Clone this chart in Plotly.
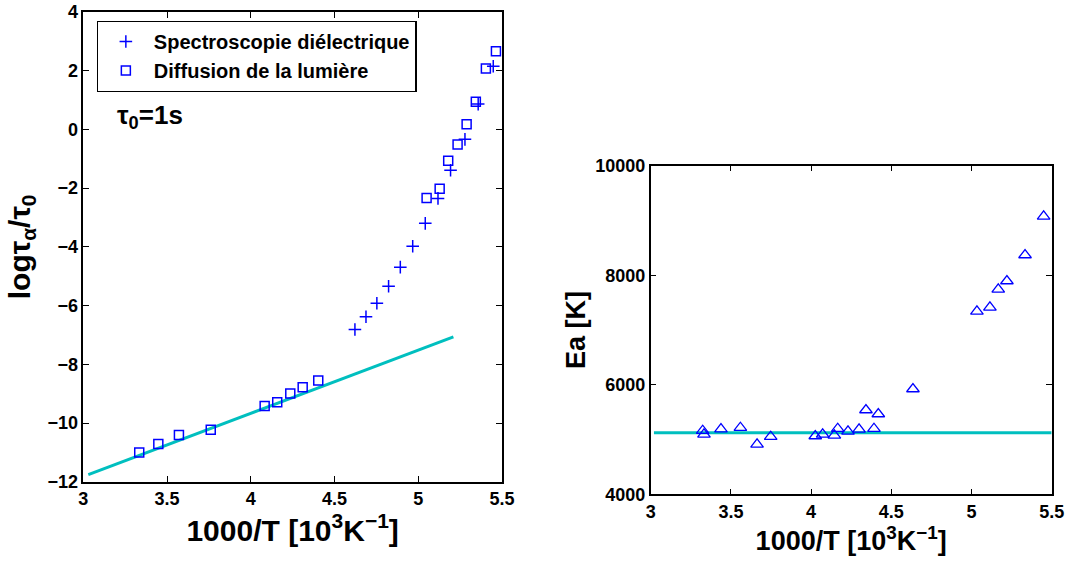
import plotly.graph_objects as go

# Left panel data
diel_x = [4.622, 4.688, 4.753, 4.823, 4.893, 4.967, 5.042, 5.118, 5.193, 5.279, 5.358, 5.448]
diel_y = [-6.81, -6.38, -5.92, -5.34, -4.69, -3.98, -3.20, -2.35, -1.39, -0.34, 0.86, 2.15]

diff_x = [3.334, 3.448, 3.571, 3.761, 4.083, 4.158, 4.236, 4.310, 4.403,
          5.050, 5.128, 5.179, 5.235, 5.289, 5.344, 5.404, 5.464]
diff_y = [-11.00, -10.71, -10.40, -10.22, -9.42, -9.29, -8.99, -8.78, -8.55,
          -2.34, -2.02, -1.07, -0.52, 0.17, 0.94, 2.07, 2.66]

fit_x = [3.03, 5.21]
fit_y = [-11.75, -7.06]

# Right panel data
ea_x = [3.324, 3.332, 3.438, 3.559, 3.663, 3.748, 4.026, 4.072, 4.145, 4.166, 4.230,
        4.299, 4.342, 4.392, 4.419, 4.635, 5.034, 5.115, 5.167, 5.221, 5.334, 5.450]
ea_y = [5161, 5096, 5192, 5216, 4913, 5052, 5065, 5096, 5077, 5198, 5150,
        5187, 5539, 5198, 5466, 5923, 7341, 7414, 7743, 7895, 8369, 9076]

ea_fit_x = [3.02, 5.5]
ea_fit_y = [5125, 5125]

x_ticks = [3, 3.5, 4, 4.5, 5, 5.5]
x_tick_text = ["3", "3.5", "4", "4.5", "5", "5.5"]
left_y_ticks = [-12, -10, -8, -6, -4, -2, 0, 2, 4]
right_y_ticks = [4000, 6000, 8000, 10000]
right_y_tick_text = ["4000", "6000", "8000", "10000"]

BLUE = "#0000FF"
CYAN = "#00BFBF"
FONT = "Liberation Sans"

fig = go.Figure()

fig.add_trace(go.Scatter(
    x=fit_x, y=fit_y, mode="lines", line=dict(color=CYAN, width=3),
    showlegend=False, xaxis="x", yaxis="y"))
fig.add_trace(go.Scatter(
    x=diel_x, y=diel_y, mode="markers", name="Spectroscopie diélectrique",
    marker=dict(symbol="cross-thin-open", size=9, color=BLUE, line=dict(color=BLUE, width=1.5)),
    xaxis="x", yaxis="y"))
fig.add_trace(go.Scatter(
    x=diff_x, y=diff_y, mode="markers", name="Diffusion de la lumière",
    marker=dict(symbol="square-open", size=9, color=BLUE, line=dict(color=BLUE, width=1.5)),
    xaxis="x", yaxis="y"))

fig.add_trace(go.Scatter(
    x=ea_fit_x, y=ea_fit_y, mode="lines", line=dict(color=CYAN, width=3),
    showlegend=False, xaxis="x2", yaxis="y2"))
fig.add_trace(go.Scatter(
    x=ea_x, y=ea_y, mode="markers",
    marker=dict(symbol="triangle-up-open", size=11, color=BLUE, line=dict(color=BLUE, width=1.3)),
    showlegend=False, xaxis="x2", yaxis="y2"))

tickfont = dict(family=FONT, size=18, color="black", weight="bold")
titlefont = dict(family=FONT, size=30, color="black", weight="bold")
titlefont2 = dict(family=FONT, size=27, color="black", weight="bold")

common_axis = dict(showline=True, linecolor="black", linewidth=1.5, mirror="ticks",
                   ticks="inside", ticklen=6, tickcolor="black", showgrid=False,
                   zeroline=False, tickfont=tickfont, automargin=False)

xt = "1000/T [10<sup>3</sup>K<sup>−1</sup>]"

fig.update_layout(
    width=1068, height=563,
    margin=dict(l=0, r=0, t=0, b=0),
    paper_bgcolor="white", plot_bgcolor="white",
    font=dict(family=FONT, color="black"),
    xaxis=dict(domain=[0.0780, 0.4700], range=[3, 5.5], tickvals=x_ticks, ticktext=x_tick_text,
               anchor="y", title=dict(text=xt, font=titlefont, standoff=4), **common_axis),
    yaxis=dict(domain=[0.1440, 0.9790], range=[-12, 4], tickvals=left_y_ticks,
               anchor="x", title=dict(text="logτ<sub>α</sub>/τ<sub>0</sub>", font=titlefont, standoff=8),
               **common_axis),
    xaxis2=dict(domain=[0.6093, 0.9847], range=[3, 5.5], tickvals=x_ticks, ticktext=x_tick_text,
                anchor="y2", title=dict(text=xt, font=titlefont2, standoff=8),
                **common_axis),
    yaxis2=dict(domain=[0.1220, 0.7057], range=[4000, 10000], tickvals=right_y_ticks,
                ticktext=right_y_tick_text,
                anchor="x2", title=dict(text="Ea [K]", font=titlefont2, standoff=2),
                **common_axis),
    legend=dict(x=0.0905, y=0.963, xanchor="left", yanchor="top",
                bordercolor="black", borderwidth=1.2, bgcolor="white",
                font=dict(family=FONT, size=20, color="black", weight="bold"),
                itemwidth=46, tracegroupgap=0),
    annotations=[dict(x=3.19, y=0.45, xref="x", yref="y", xanchor="left", yanchor="middle",
                      text="τ<sub>0</sub>=1s", showarrow=False,
                      font=dict(family=FONT, size=26, color="black", weight="bold"))],
)

fig.write_html("out.html", config={"displayModeBar": False},
               post_script="document.body.style.margin='0px';document.body.style.overflow='hidden';")
